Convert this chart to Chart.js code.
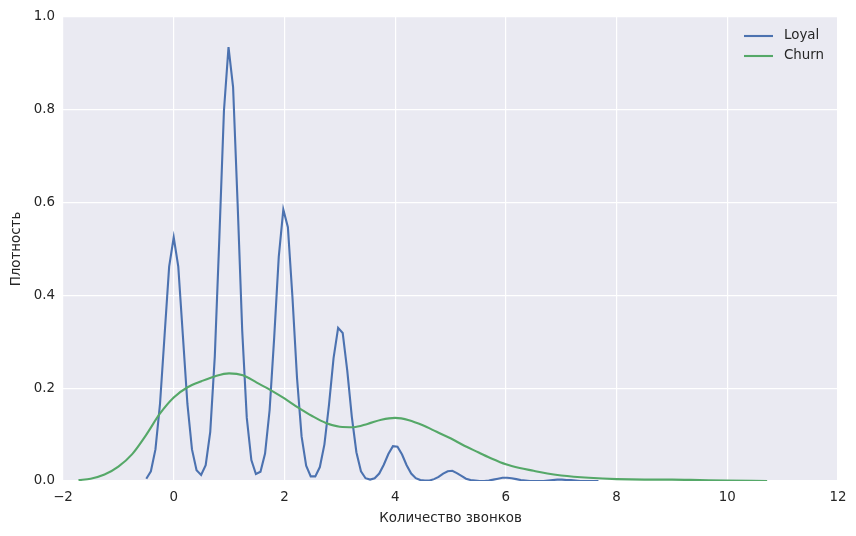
<!DOCTYPE html>
<html>
<head>
<meta charset="utf-8">
<script src="https://cdn.jsdelivr.net/npm/chart.js@4.4.0/dist/chart.umd.min.js"></script>
<style>
  html, body { margin: 0; padding: 0; background: #fff; }
  #wrap { width: 856px; height: 536px; }
</style>
</head>
<body>
<div id="wrap"><canvas id="ch"></canvas></div>
<script>
// KDE оттока: лояльные (узкое ядро) и ушедшие
const loyalX = [-0.495,-0.4125,-0.33,-0.2475,-0.165,-0.0825,0,0.0825,0.165,0.2475,
  0.33,0.4125,0.495,0.5775,0.66,0.7425,0.825,0.9075,0.99,1.0725,
  1.155,1.2375,1.32,1.4025,1.485,1.5675,1.65,1.7325,1.815,1.8975,
  1.98,2.0625,2.145,2.2275,2.31,2.3925,2.475,2.5575,2.64,2.7225,
  2.805,2.8875,2.97,3.0525,3.135,3.2175,3.3,3.3825,3.465,3.5475,
  3.63,3.7125,3.795,3.8775,3.96,4.0425,4.125,4.2075,4.29,4.3725,
  4.455,4.5375,4.62,4.7025,4.785,4.8675,4.95,5.0325,5.115,5.1975,
  5.28,5.3625,5.445,5.5275,5.61,5.6925,5.775,5.8575,5.94,6.0225,
  6.105,6.1875,6.27,6.3525,6.435,6.5175,6.6,6.6825,6.765,6.8475,
  6.93,7.0125,7.095,7.1775,7.26,7.3425,7.425,7.5075,7.59,7.6725];
const loyalY = [0.005,0.021,0.068,0.166,0.314,0.462,0.525,0.462,0.314,0.166,
  0.068,0.023,0.013,0.034,0.106,0.269,0.526,0.798,0.935,0.849,
  0.596,0.324,0.136,0.045,0.015,0.020,0.059,0.153,0.309,0.483,
  0.585,0.547,0.396,0.222,0.096,0.033,0.010,0.010,0.030,0.079,
  0.164,0.265,0.330,0.319,0.238,0.138,0.062,0.021,0.006,0.003,
  0.006,0.016,0.035,0.058,0.075,0.074,0.057,0.034,0.016,0.006,
  0.002,0.001,0.001,0.004,0.009,0.016,0.021,0.022,0.017,0.011,
  0.005,0.002,0.001,0.000,0.000,0.001,0.003,0.005,0.007,0.007,
  0.006,0.004,0.002,0.001,0.000,0.000,0.000,0.000,0.001,0.002,
  0.003,0.003,0.002,0.002,0.001,0.000,0.000,0.000,0.000,0.000];

const churnX = [-1.72,-1.5,-1.25,-1.0,-0.75,-0.5,-0.25,0.0,0.25,0.5,
  0.75,1.0,1.25,1.5,1.75,2.0,2.25,2.5,2.75,3.0,
  3.25,3.5,3.75,4.0,4.25,4.5,4.75,5.0,5.25,5.5,
  5.75,6.0,6.25,6.5,6.75,7.0,7.5,8.0,8.5,9.0,
  9.5,10.0,10.72];
const churnY = [0.002,0.005,0.014,0.031,0.058,0.099,0.145,0.180,0.202,0.215,
  0.226,0.232,0.228,0.212,0.196,0.178,0.158,0.140,0.125,0.117,
  0.116,0.123,0.132,0.136,0.131,0.120,0.106,0.092,0.076,0.062,
  0.048,0.036,0.028,0.022,0.016,0.012,0.007,0.004,0.003,0.003,
  0.002,0.001,0.000];

const seriesNames = ['Loyal', 'Churn'];
const seriesColors = ['#4C72B0', '#55A868'];
const xTicks = [-2, 0, 2, 4, 6, 8, 10, 12];
const yTicks = [0, 0.2, 0.4, 0.6, 0.8, 1.0];

const FONT = { family: 'DejaVu Sans', size: 13.4 };
const pts = (xs, ys) => xs.map((x, i) => ({ x, y: ys[i] }));

const bgPlugin = {
  id: 'bg',
  beforeDraw(chart) {
    const { ctx, chartArea: a } = chart;
    ctx.save();
    ctx.fillStyle = '#EAEAF2';
    ctx.fillRect(a.left, a.top, a.right - a.left, a.bottom - a.top);
    ctx.restore();
  }
};

// легенда без рамки в правом верхнем углу, как в seaborn
const legendPlugin = {
  id: 'lg',
  afterDraw(chart) {
    const ctx = chart.ctx;
    ctx.save();
    ctx.font = FONT.size + 'px ' + FONT.family;
    ctx.textBaseline = 'middle';
    chart.data.datasets.forEach((ds, i) => {
      const y = 36 + i * 20;
      ctx.strokeStyle = ds.borderColor;
      ctx.lineWidth = 2.1;
      ctx.beginPath(); ctx.moveTo(744, y); ctx.lineTo(773, y); ctx.stroke();
      ctx.fillStyle = '#262626';
      ctx.fillText(ds.label, 784, y);
    });
    ctx.restore();
  }
};

new Chart(document.getElementById('ch'), {
  type: 'line',
  data: {
    datasets: [
      { label: seriesNames[0], data: pts(loyalX, loyalY), borderColor: seriesColors[0], borderWidth: 2.1, pointRadius: 0, tension: 0, fill: false, order: 1 },
      { label: seriesNames[1], data: pts(churnX, churnY), borderColor: seriesColors[1], borderWidth: 2.1, pointRadius: 0, cubicInterpolationMode: 'monotone', fill: false, order: 0 }
    ]
  },
  options: {
    responsive: true,
    maintainAspectRatio: false,
    animation: false,
    layout: { padding: { left: 0, right: 18, top: 17, bottom: 0 } },
    plugins: { legend: { display: false }, tooltip: { enabled: false } },
    scales: {
      x: {
        type: 'linear', min: -2, max: 12,
        border: { display: false },
        grid: { color: '#FFFFFF', lineWidth: 1.2, drawTicks: false },
        afterBuildTicks: s => { s.ticks = xTicks.map(v => ({ value: v })); },
        afterFit: s => { s.height = 55; },
        ticks: { color: '#262626', font: FONT, padding: 8, maxRotation: 0,
          callback: v => (v < 0 ? '\u2212' + Math.abs(v) : String(v)) },
        title: { display: true, text: 'Количество звонков', color: '#262626', font: FONT, padding: 9 }
      },
      y: {
        min: 0, max: 1,
        border: { display: false },
        grid: { color: '#FFFFFF', lineWidth: 1.2, drawTicks: false },
        afterBuildTicks: s => { s.ticks = yTicks.map(v => ({ value: v })); },
        afterFit: s => { s.width = 63; },
        ticks: { color: '#262626', font: FONT, padding: 8, callback: v => v.toFixed(1) },
        title: { display: true, text: 'Плотность', color: '#262626', font: FONT, padding: 8 }
      }
    }
  },
  plugins: [bgPlugin, legendPlugin]
});
</script>
</body>
</html>
